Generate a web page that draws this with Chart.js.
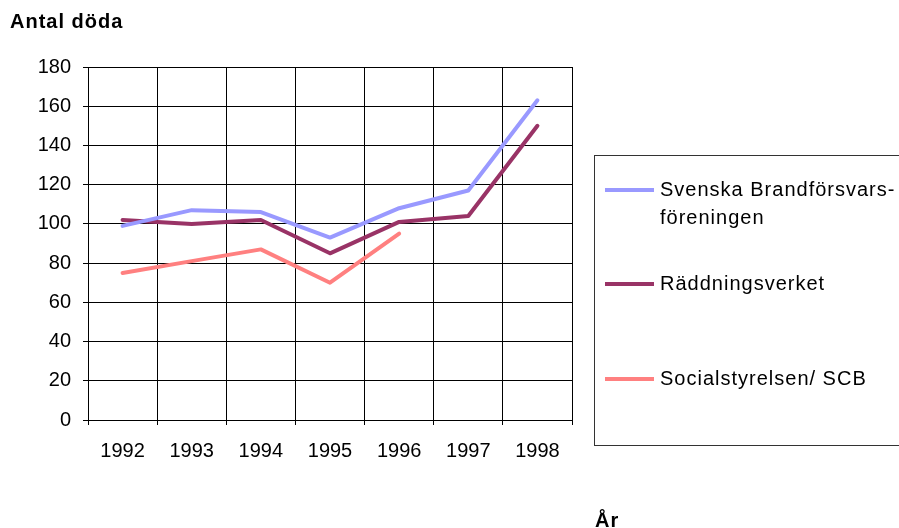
<!DOCTYPE html>
<html>
<head>
<meta charset="utf-8">
<script src="https://cdn.jsdelivr.net/npm/chart.js@4.4.1/dist/chart.umd.min.js"></script>
<style>
  html, body { margin: 0; padding: 0; background: #fff; }
  #wrap { width: 899px; height: 528px; position: relative; }
</style>
</head>
<body>
<div id="wrap"><canvas id="fireChart" width="899" height="528"></canvas></div>
<script>
const years = ['1992', '1993', '1994', '1995', '1996', '1997', '1998'];
const brandforsvar = [99, 107, 106, 93, 108, 117, 163];
const raddningsverket = [102, 100, 102, 85, 101, 104, 150];
const socialstyrelsen = [75, 81, 87, 70, 95, null, null];
const legendLines = [['Svenska Brandförsvars-', 'föreningen'], ['Räddningsverket'], ['Socialstyrelsen/ SCB']];

const FONT = '"Liberation Sans", Arial, sans-serif';

// title, axis label and the boxed legend on the right
const extras = {
    id: 'extras',
    afterDraw(chart) {
        const ctx = chart.ctx;
        ctx.save();
        ctx.fillStyle = '#000';
        ctx.textBaseline = 'alphabetic';
        ctx.textAlign = 'left';
        ctx.letterSpacing = '1px';
        ctx.font = 'bold 20px ' + FONT;
        ctx.fillText('Antal döda', 10, 28);
        ctx.fillText('År', 595, 527);

        ctx.strokeStyle = '#333';
        ctx.lineWidth = 1;
        ctx.strokeRect(594.5, 155.5, 320, 290);

        const rows = [190, 284, 379];
        ctx.font = '20px ' + FONT;
        chart.data.datasets.forEach((ds, i) => {
            const y = rows[i];
            ctx.strokeStyle = ds.borderColor;
            ctx.lineWidth = 4;
            ctx.beginPath();
            ctx.moveTo(605, y);
            ctx.lineTo(654, y);
            ctx.stroke();
            legendLines[i].forEach((t, j) => {
                ctx.fillText(t, 660, y + 6 + j * 28);
            });
        });
        ctx.restore();
    }
};

const ctx = document.getElementById('fireChart').getContext('2d');
const chart = new Chart(ctx, {
    type: 'line',
    data: {
        labels: years,
        datasets: [
            {
                label: 'Svenska Brandförsvarsföreningen',
                borderColor: '#9999FF',
                data: brandforsvar
            },
            {
                label: 'Räddningsverket',
                borderColor: '#993366',
                data: raddningsverket
            },
            {
                label: 'Socialstyrelsen/ SCB',
                borderColor: '#FF8080',
                data: socialstyrelsen
            }
        ]
    },
    options: {
        responsive: false,
        animation: false,
        events: [],
        layout: { padding: { top: 67, right: 327, left: 0, bottom: 0 } },
        elements: {
            line: { borderWidth: 4, tension: 0, borderCapStyle: 'round', borderJoinStyle: 'round', fill: false },
            point: { radius: 0 }
        },
        plugins: {
            legend: { display: false },
            tooltip: { enabled: false }
        },
        scales: {
            x: {
                offset: true,
                grid: { offset: true, color: '#000', lineWidth: 1, tickLength: 5, drawTicks: true },
                border: { color: '#000', width: 1 },
                ticks: { color: '#000', font: { family: FONT, size: 20 }, padding: 14, maxRotation: 0 },
                afterFit(scale) { scale.height = 108; }
            },
            y: {
                min: 0,
                max: 180,
                ticks: { stepSize: 20, color: '#000', font: { family: FONT, size: 20 }, padding: 12 },
                grid: { color: '#000', lineWidth: 1, tickLength: 5 },
                border: { color: '#000', width: 1 },
                afterFit(scale) { scale.width = 88; }
            }
        }
    },
    plugins: [extras]
});
</script>
</body>
</html>
